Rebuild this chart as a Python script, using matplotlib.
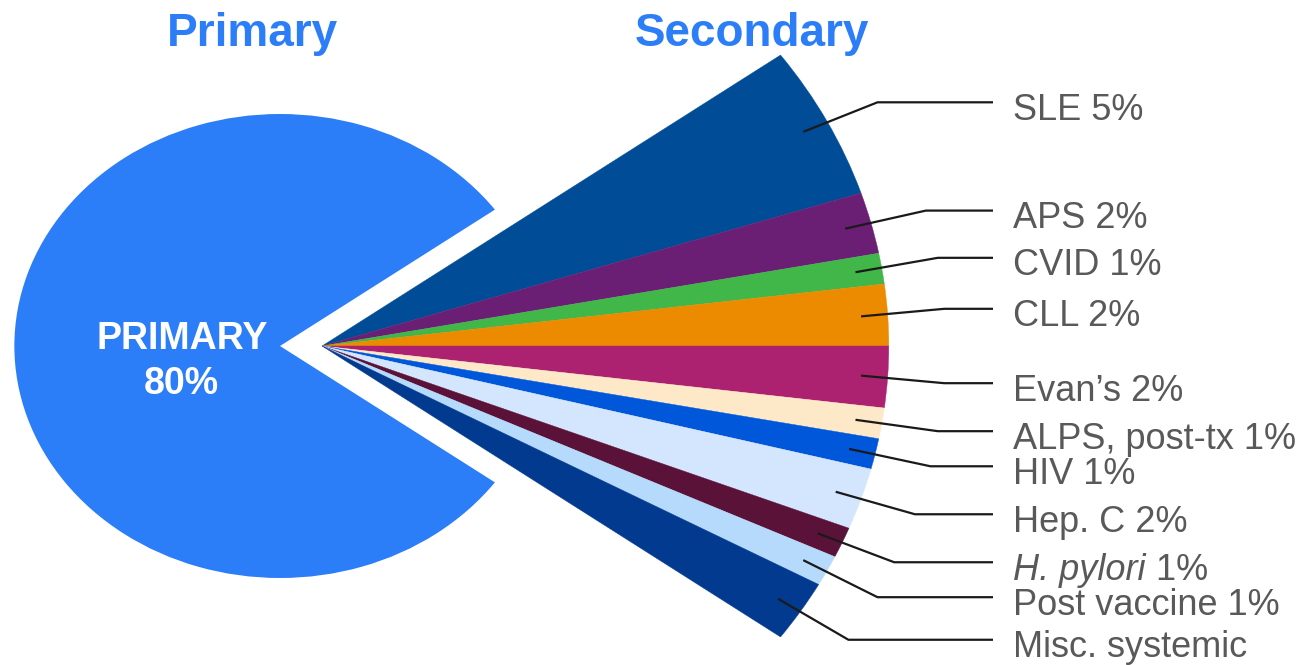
import numpy as np
import matplotlib.pyplot as plt
from matplotlib.patches import Wedge

plt.rcParams['font.family'] = ['Liberation Sans', 'DejaVu Sans']

# data
primary_label = 'PRIMARY'
primary_value = 80
secondary_labels = ['SLE', 'APS', 'CVID', 'CLL', 'Evan\u2019s', 'ALPS, post-tx', 'HIV',
                    'Hep. C', 'H. pylori', 'Post vaccine', 'Misc. systemic']
secondary_values = [5, 2, 1, 2, 2, 1, 1, 2, 1, 1, 2]
show_pct = [True] * 10 + [False]
italic = [False] * 8 + [True] + [False] * 2
secondary_colors = ['#004c97', '#6a1f75', '#41b649', '#ec8a00', '#ad2270', '#fde8c8',
                    '#0057d9', '#d4e6fe', '#5a1238', '#b6dafc', '#023a8f']
primary_color = '#2b7df8'
text_gray = '#595959'

# small vertical nudges of the label leaders (pixels, down is positive)
label_nudge = [3.5, 0, -3, -3, 3, 0, 1.5, 0, 0, 4, 2]

W, H = 1310, 665
SX = 1.145  # the original drawing is stretched horizontally


def px(x, y):
    return x / SX, H - y


fig = plt.figure(figsize=(13.1, 6.65), dpi=100)
ax = fig.add_axes([0, 0, 1, 1])
ax.set_xlim(0, W / SX)
ax.set_ylim(0, H)
ax.axis('off')

total = primary_value + sum(secondary_values)
half_gap = (total - primary_value) / total * 360 / 2

# primary pie (pac-man with the secondary share cut out)
pc = px(280, 346)
pr = 232
ax.add_patch(Wedge(pc, pr, half_gap, 360 - half_gap, facecolor=primary_color, lw=0))
lx = pc[0] - 0.37 * pr
ax.text(lx, H - 349, primary_label, color='white', fontsize=27, fontweight='bold',
        ha='center', va='baseline')
ax.text(lx, H - 394, f'{primary_value}%', color='white', fontsize=27, fontweight='bold',
        ha='center', va='baseline')

# secondary fan
sc = px(322, 346)
sr = 495
line_end = 993 / SX
text_x = 1013 / SX
start = half_gap
for lab, val, col, pct, it, dy in zip(secondary_labels, secondary_values, secondary_colors,
                                      show_pct, italic, label_nudge):
    span = val / total * 360
    t2 = start
    t1 = start - span
    ax.add_patch(Wedge(sc, sr, t1, t2, facecolor=col, edgecolor=col, lw=0.3))
    mid = np.deg2rad((t1 + t2) / 2)
    p0 = (sc[0] + 0.953 * sr * np.cos(mid), sc[1] + 0.953 * sr * np.sin(mid))
    p1 = (sc[0] + 1.1 * sr * np.cos(mid), sc[1] + 1.1 * sr * np.sin(mid) - dy)
    ax.plot([p0[0], p1[0], line_end], [p0[1], p1[1], p1[1]], color='#1a1a1a',
            lw=1.6, solid_capstyle='butt')
    yb = p1[1] - 17.5
    pct_txt = f' {val}%' if pct else ''
    if it:
        t = ax.text(text_x, yb, lab, fontsize=26, color=text_gray, style='italic',
                    ha='left', va='baseline')
        ax.annotate(pct_txt, xy=(1, yb), xycoords=(t, 'data'), fontsize=26,
                    color=text_gray, ha='left', va='baseline')
    else:
        ax.text(text_x, yb, lab + pct_txt, fontsize=26, color=text_gray,
                ha='left', va='baseline')
    start = t1

# titles
ax.text(252 / SX, H - 46, 'Primary', color=primary_color, fontsize=33, fontweight='bold',
        ha='center', va='baseline')
ax.text(752 / SX, H - 46, 'Secondary', color=primary_color, fontsize=33, fontweight='bold',
        ha='center', va='baseline')

fig.savefig('out.png', dpi=100)
